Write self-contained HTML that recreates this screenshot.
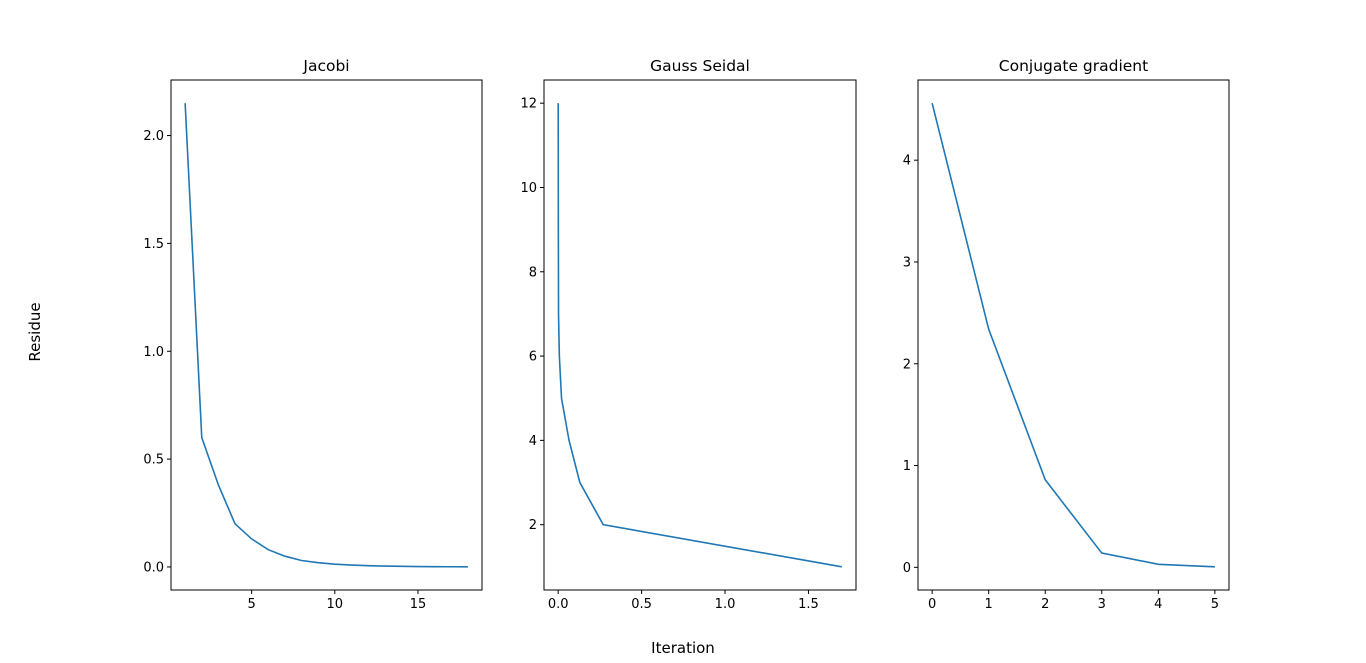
<!DOCTYPE html>
<html><head><meta charset="utf-8"><style>body{margin:0;background:#fff}svg{display:block;font-family:"DejaVu Sans","Liberation Sans",sans-serif}</style></head>
<body>
<svg id="fig" width="1366" height="663" viewBox="0 0 1366 663" xmlns="http://www.w3.org/2000/svg">
<text x="40" y="332" font-size="15" text-anchor="middle" transform="rotate(-90 40 332)">Residue</text>
<text x="683" y="653" font-size="15" text-anchor="middle">Iteration</text>
</svg>
<script>
const jacobiX = [1,2,3,4,5,6,7,8,9,10,11,12,13,14,15,16,17,18];
const jacobiY = [2.15,0.6,0.38,0.2,0.13,0.08,0.05,0.03,0.02,0.013,0.009,0.006,0.004,0.003,0.002,0.0015,0.001,0.0007];
const gaussX = [0,0.0005,0.001,0.002,0.007,0.02,0.065,0.13,0.27,1.7];
const gaussY = [12,11,9,7,6,5,4,3,2,1];
const cgX = [0,1,2,3,4,5];
const cgY = [4.56,2.34,0.86,0.14,0.03,0.005];
const jacobiXTicks = [5,10,15];
const jacobiYTicks = [0.0,0.5,1.0,1.5,2.0];
const gaussXTicks = [0.0,0.5,1.0,1.5];
const gaussYTicks = [2,4,6,8,10,12];
const cgXTicks = [0,1,2,3,4,5];
const cgYTicks = [0,1,2,3,4];

const svg = document.getElementById('fig');
const NS = 'http://www.w3.org/2000/svg';
function mk(tag, attrs){const e=document.createElementNS(NS,tag);for(const k in attrs)e.setAttribute(k,attrs[k]);svg.appendChild(e);return e;}
function panel(key,title,L,R,xs,ys,xt,yt,xfmt,yfmt){
  const T=80,B=590;
  let x0=Math.min(...xs),x1=Math.max(...xs),y0=Math.min(...ys),y1=Math.max(...ys);
  const mx=(x1-x0)*0.05,my=(y1-y0)*0.05;x0-=mx;x1+=mx;y0-=my;y1+=my;
  const sx=v=>L+(v-x0)/(x1-x0)*(R-L);
  const sy=v=>B-(v-y0)/(y1-y0)*(B-T);
  const t=mk('text',{x:(L+R)/2,y:71,'font-size':15.5,'text-anchor':'middle'});t.textContent=title;
  
  
  xt.forEach(v=>{const X=sx(v);
    const l=mk('line',{x1:X,x2:X,y1:B,y2:B+4,stroke:'#000','stroke-width':1});
    
    
    const tx=mk('text',{x:X,y:B+18,'font-size':13,'text-anchor':'middle'});tx.textContent=xfmt(v);
    
    });
  yt.forEach(v=>{const Y=sy(v);
    const l=mk('line',{x1:L-4,x2:L,y1:Y,y2:Y,stroke:'#000','stroke-width':1});
    
    
    const tx=mk('text',{x:L-7,y:Y+4.5,'font-size':13,'text-anchor':'end'});tx.textContent=yfmt(v);
    
    });
  const p=mk('polyline',{points:xs.map((v,i)=>sx(v)+','+sy(ys[i])).join(' '),fill:'none',stroke:'#1f77b4','stroke-width':1.6});
  
  
  const f=mk('rect',{x:L,y:T,width:R-L,height:B-T,fill:'none',stroke:'#000','stroke-width':1});
  
  
}
panel('jacobi','Jacobi',171,482,jacobiX,jacobiY,jacobiXTicks,jacobiYTicks,v=>String(v),v=>v.toFixed(1));
panel('gauss-seidal','Gauss Seidal',544,856,gaussX,gaussY,gaussXTicks,gaussYTicks,v=>v.toFixed(1),v=>String(v));
panel('conjugate-gradient','Conjugate gradient',918,1229,cgX,cgY,cgXTicks,cgYTicks,v=>String(v),v=>String(v));
</script>
</body></html>
